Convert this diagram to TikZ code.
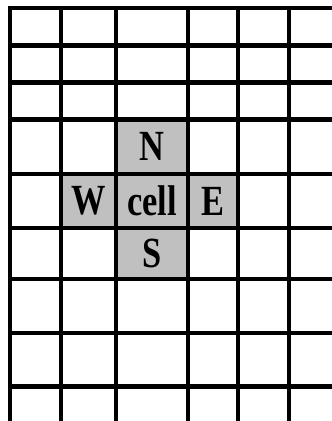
\documentclass[tikz,border=0pt]{standalone}
\usepackage{fontspec}
\setmainfont{Liberation Serif}
\definecolor{cellgray}{RGB}{192,192,192}
\begin{document}
\begin{tikzpicture}[x=1pt,y=-1pt,
  gridline/.style={line width=4.4pt,black},
  lbl/.style={fill=cellgray, inner sep=0pt, outer sep=0pt,
    font=\bfseries\fontsize{43}{43}\selectfont}]
\useasboundingbox (0,0) rectangle (332,421);
\fill[white] (0,0) rectangle (332,421);
\node[lbl, minimum width=72pt, minimum height=54.5pt] (N) at (152,146.75) {\scalebox{0.8}[1]{N}};
\node[lbl, minimum width=72pt, minimum height=54pt] (C) at (152,201) {\scalebox{0.8}[1]{cell}};
\node[lbl, minimum width=55pt, minimum height=54pt] (W) at (88.5,201) {\scalebox{0.8}[1]{W}};
\node[lbl, minimum width=50pt, minimum height=54pt] (E) at (213,201) {\scalebox{0.8}[1]{E}};
\node[lbl, minimum width=72pt, minimum height=51pt] (S) at (152,253.5) {\scalebox{0.8}[1]{S}};
\foreach \yy in {8,45.5,82.5,119.5,174,228,279,333,386.5}
  \draw[gridline] (8,\yy) -- (332,\yy);
\foreach \xx in {10,61,116,188,238,289}
  \draw[gridline] (\xx,6) -- (\xx,421);
\end{tikzpicture}
\end{document}
